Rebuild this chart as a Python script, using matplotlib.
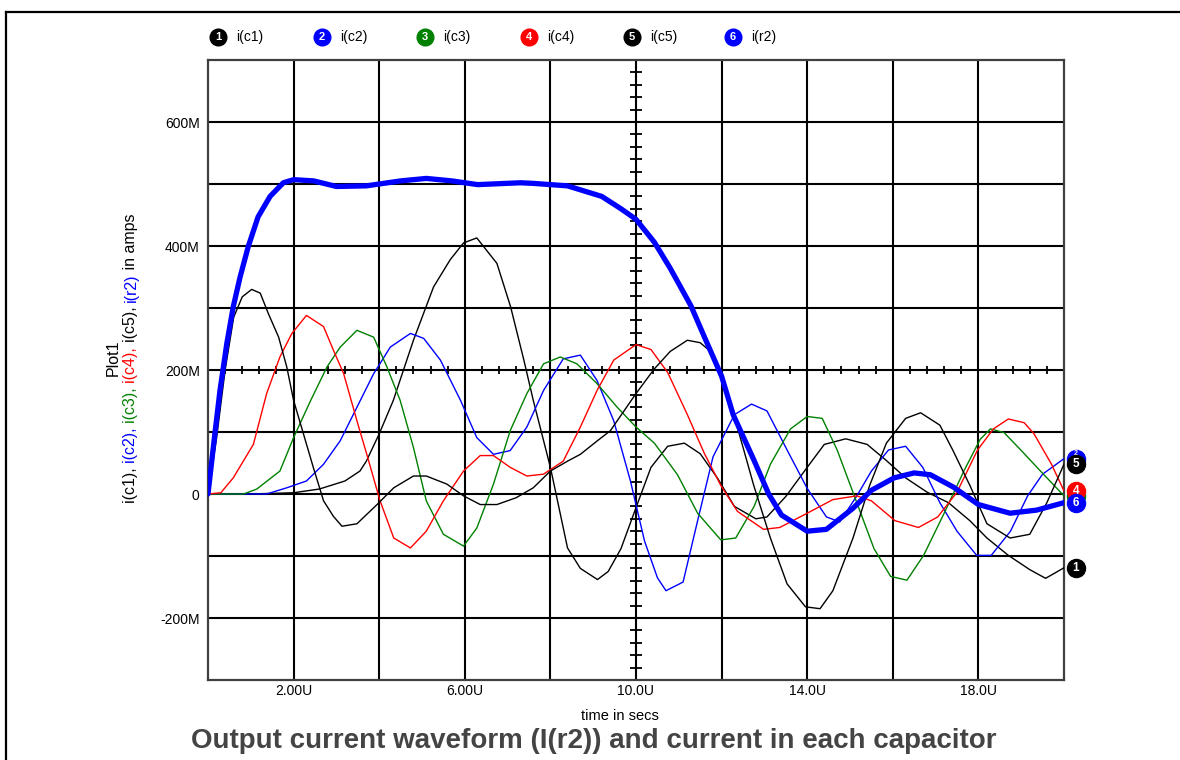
import numpy as np
import matplotlib
matplotlib.use('Agg')
import matplotlib.pyplot as plt
from matplotlib import font_manager
from matplotlib.transforms import ScaledTranslation
from matplotlib.lines import Line2D

# ---------------- data (time in µs, current in mA "M") ----------------
T_C1 = [0, 1.0, 2.0, 2.6, 3.2, 3.55, 3.7, 4.0, 4.33, 4.8, 5.27, 5.66, 5.97, 6.28, 6.75, 7.07, 7.38, 7.6, 8.0,
        8.4, 8.7, 9.1, 9.35, 9.65, 10.0, 10.35, 10.74, 11.13, 11.5, 11.9, 12.3, 12.8, 13.06, 13.5, 14.0, 14.4,
        14.9, 15.4, 15.85, 16.3, 16.8, 17.3, 17.8, 18.2, 18.7, 19.2, 19.57, 20.0]
I_C1 = [0, 0, 2, 8, 21, 37, 53, 97, 151, 248, 334, 378, 405, 413, 372, 302, 216, 151, 43,
        -87, -120, -138, -125, -88, -22, 43, 77, 82, 65, 26, -20, -40, -37, -4, 43, 80,
        89, 80, 54, 26, 3, -14, -43, -71, -99, -122, -136, -119]

T_C2 = [0, 1.37, 1.84, 2.3, 2.7, 3.09, 3.48, 3.87, 4.26, 4.73, 5.04, 5.43, 5.9, 6.28, 6.67, 7.06, 7.45, 7.84,
        8.3, 8.7, 9.09, 9.48, 9.87, 10.2, 10.5, 10.7, 11.1, 11.44, 11.8, 12.3, 12.7, 13.06, 13.53, 14.0, 14.45,
        14.76, 15.16, 15.5, 15.9, 16.3, 16.7, 17.1, 17.5, 17.96, 18.3, 18.75, 19.15, 19.5, 20.0]
I_C2 = [0, 0, 10, 21, 48, 86, 140, 194, 237, 259, 251, 216, 151, 91, 64, 70, 108, 167,
        218, 224, 183, 118, 21, -76, -135, -156, -142, -43, 60, 128, 145, 134, 71, 9, -37,
        -45, -3, 37, 71, 77, 43, -14, -60, -99, -99, -60, -3, 32, 57]

T_C3 = [0, 0.83, 1.14, 1.68, 2.0, 2.4, 2.78, 3.09, 3.48, 3.87, 4.18, 4.49, 4.8, 5.1, 5.5, 5.97, 6.28, 6.67,
        7.06, 7.45, 7.84, 8.23, 8.62, 9.09, 9.56, 10.0, 10.43, 10.97, 11.44, 11.98, 12.33, 12.76, 13.14, 13.61,
        14.0, 14.35, 14.7, 15.1, 15.56, 15.95, 16.33, 16.72, 17.2, 17.66, 18.04, 18.28, 18.6, 18.99, 19.45, 20.0]
I_C3 = [0, 0, 8, 37, 91, 151, 205, 237, 264, 253, 205, 151, 75, -11, -65, -84, -55, 16,
        102, 162, 210, 221, 210, 178, 140, 108, 82, 31, -31, -74, -71, -20, 48, 105,
        125, 122, 71, -3, -88, -133, -139, -99, -31, 37, 88, 105, 99, 71, 37, -3]

T_C4 = [0, 0.3, 0.59, 1.06, 1.37, 1.68, 1.96, 2.3, 2.7, 2.93, 3.17, 3.48, 3.71, 4.02, 4.34, 4.73, 5.1, 5.5,
        5.97, 6.36, 6.67, 7.06, 7.45, 7.84, 8.3, 8.7, 9.09, 9.48, 10.0, 10.35, 10.74, 11.2, 11.6, 11.98, 12.37,
        12.98, 13.36, 14.0, 14.6, 15.16, 15.5, 16.05, 16.6, 17.05, 17.5, 17.98, 18.35, 18.7, 19.07, 19.3, 19.7, 20.0]
I_C4 = [0, 2, 26, 80, 162, 221, 259, 288, 270, 232, 194, 118, 64, -11, -71, -87, -60, -11,
        37, 62, 62, 43, 29, 32, 53, 108, 167, 216, 241, 233, 196, 128, 65, 14, -28,
        -57, -54, -31, -9, -3, -11, -43, -54, -37, 3, 71, 105, 121, 115, 97, 49, 5]

T_C5 = [0, 0.2, 0.4, 0.6, 0.8, 1.02, 1.22, 1.41, 1.65, 1.84, 2.0, 2.23, 2.46, 2.7, 2.93, 3.13, 3.48, 3.95,
        4.34, 4.8, 5.1, 5.58, 5.97, 6.36, 6.75, 7.2, 7.6, 8.0, 8.4, 8.7, 9.1, 9.4, 10.0, 10.43, 10.8, 11.2,
        11.5, 11.74, 12.0, 12.4, 12.75, 13.14, 13.53, 13.96, 14.3, 14.6, 15.07, 15.46, 15.85, 16.3, 16.65,
        17.1, 17.4, 17.8, 18.2, 18.74, 19.2, 19.6, 20.0]
I_C5 = [0, 90, 200, 285, 318, 330, 324, 291, 253, 205, 151, 97, 43, -11, -36, -52, -48, -17,
        10, 29, 29, 16, -3, -17, -17, -6, 10, 37, 53, 64, 86, 102, 162, 202, 230, 248,
        244, 230, 185, 100, 14, -71, -145, -182, -185, -156, -71, 14, 82, 122, 131,
        111, 71, 14, -48, -71, -65, -14, 48]

T_R2 = [0, 0.16, 0.28, 0.44, 0.59, 0.75, 0.94, 1.17, 1.45, 1.76, 2.0, 2.47, 3.0, 3.7, 4.5, 5.1, 5.7, 6.3,
        7.3, 7.6, 8.4, 9.2, 9.65, 10.0, 10.43, 10.8, 11.28, 11.6, 12.0, 12.27, 12.74, 13.1, 13.4, 14.0, 14.45,
        15.07, 15.5, 16.03, 16.5, 16.88, 17.42, 18.0, 18.74, 19.36, 20.0]
I_R2 = [0, 97, 167, 243, 302, 350, 399, 447, 480, 502, 507, 505, 496, 497, 505, 509, 505, 499,
        502, 501, 497, 480, 460, 443, 406, 364, 304, 253, 190, 128, 57, 0, -34, -60, -57,
        -23, 6, 26, 34, 31, 11, -17, -31, -26, -14]

SERIES_NAMES = ['i(c1)', 'i(c2)', 'i(c3)', 'i(c4)', 'i(c5)', 'i(r2)']
SERIES_COLORS = ['#000000', '#0000ff', '#008000', '#ff0000', '#000000', '#0000ff']

X_TICKS = [2, 6, 10, 14, 18]
X_TICK_LABELS = ['2.00U', '6.00U', '10.0U', '14.0U', '18.0U']
Y_TICKS = [-200, 0, 200, 400, 600]
Y_TICK_LABELS = ['-200M', '0', '200M', '400M', '600M']

# ---------------- figure ----------------
names = {f.name for f in font_manager.fontManager.ttflist}
FONT = 'Liberation Sans' if 'Liberation Sans' in names else 'DejaVu Sans'
plt.rcParams['font.family'] = [FONT, 'DejaVu Sans']

W, H = 1180, 760
fig = plt.figure(figsize=(W / 100, H / 100), dpi=100)
fig.patch.set_facecolor('white')

ax = fig.add_axes([208 / W, 1 - 680 / H, (1064 - 208) / W, (680 - 60) / H])
ax.set_xlim(0, 20)
ax.set_ylim(-300, 700)

# grid
for xg in np.arange(2, 20, 2):
    ax.axvline(xg, color='black', lw=1.5, zorder=1)
for yg in np.arange(-200, 700, 100):
    ax.axhline(yg, color='black', lw=1.5, zorder=1)

# crosshair minor ticks
xt = np.arange(0.4, 19.9, 0.4)
ax.plot(xt, np.full_like(xt, 200.0), ls='none', marker='|', ms=5.5, mew=1.3, color='black', zorder=1.5)
yt = np.arange(-280, 700, 20)
ax.plot(np.full_like(yt, 10.0, dtype=float), yt, ls='none', marker='_', ms=8, mew=1.3, color='black', zorder=1.5)

for s in ax.spines.values():
    s.set_color('#404040')
    s.set_linewidth(1.6)

ax.set_xticks(X_TICKS)
ax.set_xticklabels(X_TICK_LABELS)
ax.set_yticks(Y_TICKS)
ax.set_yticklabels(Y_TICK_LABELS)
ax.tick_params(length=0, labelsize=10)
ax.tick_params(axis='x', pad=3)
ax.tick_params(axis='y', pad=6)

# curves
series = [(T_C1, I_C1), (T_C2, I_C2), (T_C3, I_C3), (T_C4, I_C4), (T_C5, I_C5)]
for (t, v), c in zip(series, SERIES_COLORS[:5]):
    ax.plot(t, v, color=c, lw=1.0, zorder=3)
ax.plot(T_R2, I_R2, color=SERIES_COLORS[5], lw=3.8, zorder=4, solid_capstyle='round')

# end markers (green "3" lies hidden under markers 4 and 6, as in the original)
all_series = series + [(T_R2, I_R2)]
offset = ScaledTranslation(12 / 100, 0, fig.dpi_scale_trans)
trans = ax.transData + offset
order = [2, 1, 4, 3, 5, 0]
for k, i in enumerate(order):
    t, v = all_series[i]
    ax.plot([t[-1]], [v[-1]], marker='o', ms=13, color=SERIES_COLORS[i], transform=trans,
            clip_on=False, zorder=10 + 2 * k)
    if i not in (1, 2):
        ax.text(t[-1], v[-1], str(i + 1), transform=trans, color='white', ha='center', va='center',
                fontsize=8.5, fontweight='bold', clip_on=False, zorder=11 + 2 * k)
# marker "2" peeks out above marker "5": put its digit on the visible top part
t2, v2 = all_series[1]
ax.text(t2[-1], v2[-1], '2', transform=ax.transData + ScaledTranslation(12 / 100, 5 / 100, fig.dpi_scale_trans),
        color='white', ha='center', va='center', fontsize=5, fontweight='bold', clip_on=False, zorder=13)

# legend at top
LEG_X = [218, 322, 425, 529, 632, 733]
LEG_Y = 1 - 37 / H
for i in range(6):
    fig.add_artist(Line2D([LEG_X[i] / W], [LEG_Y], marker='o', ms=12, color=SERIES_COLORS[i],
                          transform=fig.transFigure))
    fig.text(LEG_X[i] / W, LEG_Y, str(i + 1), color='white', ha='center', va='center',
             fontsize=8, fontweight='bold')
    fig.text((LEG_X[i] + 18) / W, LEG_Y, SERIES_NAMES[i], color='black', ha='left', va='center',
             fontsize=10)

# axis titles
fig.text(620 / W, 1 - 716 / H, 'time in secs', ha='center', va='center', fontsize=10.5)

YLAB_SIZE = 11.5
YLAB_CENTER = H - 358   # figure pixel from bottom
fig.text(113 / W, YLAB_CENTER / H, 'Plot1', rotation=90, ha='center', va='center', fontsize=YLAB_SIZE)

renderer = fig.canvas.get_renderer()


def text_width(s, size):
    a = fig.text(0, 0, s + '|', fontsize=size)
    b = fig.text(0, 0, '|', fontsize=size)
    w = a.get_window_extent(renderer).width - b.get_window_extent(renderer).width
    a.remove()
    b.remove()
    return w


pieces = [('i(c1), ', SERIES_COLORS[0]), ('i(c2), ', SERIES_COLORS[1]), ('i(c3), ', SERIES_COLORS[2]),
          ('i(c4), ', SERIES_COLORS[3]), ('i(c5), ', SERIES_COLORS[4]), ('i(r2)', SERIES_COLORS[5]),
          (' in amps', '#000000')]
full = ''.join(p for p, _ in pieces)
total = text_width(full, YLAB_SIZE)
start = YLAB_CENTER - total / 2
prefix = ''
for p, c in pieces:
    off = text_width(prefix, YLAB_SIZE) if prefix else 0
    fig.text(131 / W, (start + off) / H, p, rotation=90, rotation_mode='anchor', ha='left',
             va='center', fontsize=YLAB_SIZE, color=c)
    prefix += p

# title
fig.text(594 / W, 1 - 748 / H, 'Output current waveform (I(r2)) and current in each capacitor',
         ha='center', va='baseline', fontsize=20, fontweight='bold', color='#444444')

# outer border (left and top)
fig.add_artist(Line2D([6 / W, 6 / W], [0, 1 - 12 / H], color='black', lw=1.6, transform=fig.transFigure))
fig.add_artist(Line2D([6 / W, 1], [1 - 12 / H, 1 - 12 / H], color='black', lw=1.6, transform=fig.transFigure))

fig.savefig('out.png', dpi=100)
